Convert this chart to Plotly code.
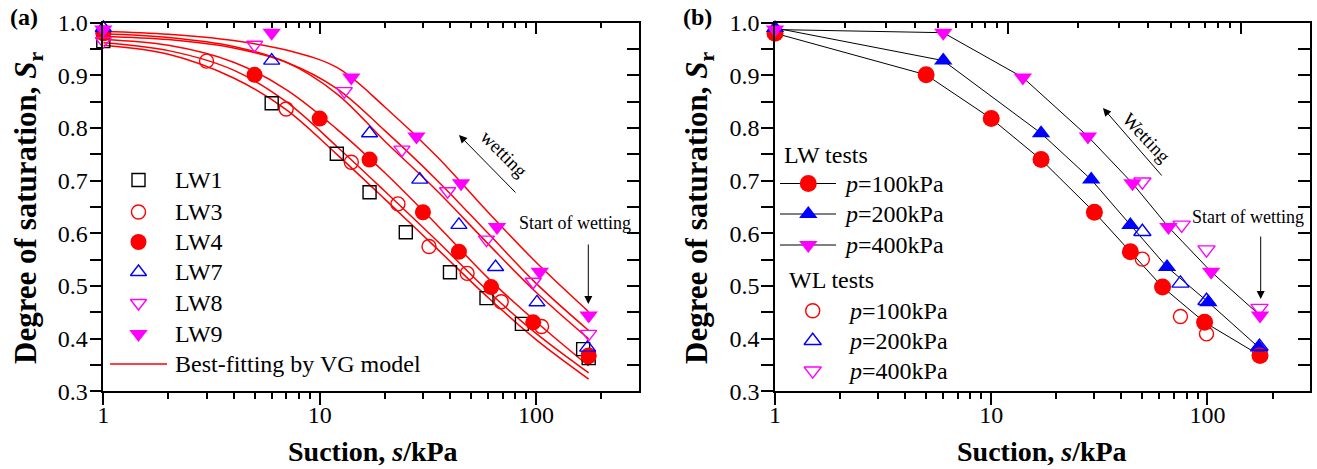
import plotly.graph_objects as go

W, H = 1317, 469
SERIF = "Liberation Serif"

# ---------- (a) LW tests: measured points ----------
s_lw1 = [1, 6, 12, 17, 25, 40, 59, 86, 165, 175]
sr_lw1 = [0.965, 0.847, 0.751, 0.678, 0.602, 0.526, 0.477, 0.428, 0.380, 0.363]
s_lw3 = [3, 7, 14, 23, 32, 48, 69, 106, 175]
sr_lw3 = [0.927, 0.836, 0.735, 0.656, 0.575, 0.524, 0.470, 0.423, 0.366]
s_lw4 = [1, 5, 10, 17, 30, 44, 62, 97, 175]
sr_lw4 = [0.980, 0.901, 0.818, 0.740, 0.640, 0.565, 0.498, 0.431, 0.368]
s_lw7 = [1, 6, 17, 29, 44, 65, 101, 173]
sr_lw7 = [0.990, 0.928, 0.790, 0.702, 0.616, 0.536, 0.469, 0.383]
s_lw8 = [1, 5, 13, 24, 39, 59, 97, 175]
sr_lw8 = [0.965, 0.958, 0.870, 0.759, 0.680, 0.588, 0.508, 0.409]
s_lw9 = [1, 6, 14, 28, 45, 66, 104, 175]
sr_lw9 = [0.987, 0.981, 0.896, 0.784, 0.695, 0.612, 0.527, 0.444]

# ---------- (a) VG best-fitting curves ----------
s_fit = [1, 2, 4, 7, 12, 20, 35, 60, 100, 175]
fit_lw1 = [0.957, 0.940, 0.895, 0.835, 0.750, 0.665, 0.570, 0.478, 0.398, 0.323]
fit_lw3 = [0.962, 0.947, 0.910, 0.850, 0.765, 0.680, 0.585, 0.490, 0.410, 0.335]
fit_lw4 = [0.968, 0.957, 0.925, 0.873, 0.798, 0.715, 0.615, 0.515, 0.432, 0.348]
fit_lw7 = [0.979, 0.972, 0.955, 0.925, 0.865, 0.775, 0.680, 0.580, 0.488, 0.3995]
fit_lw8 = [0.974, 0.968, 0.952, 0.925, 0.875, 0.795, 0.700, 0.600, 0.505, 0.4155]
fit_lw9 = [0.984, 0.978, 0.966, 0.948, 0.915, 0.840, 0.745, 0.640, 0.545, 0.451]

# ---------- (b) WL tests ----------
s_wl100 = [50, 75, 99, 174]
sr_wl100 = [0.551, 0.442, 0.409, 0.369]
s_wl200 = [50, 75, 99, 174]
sr_wl200 = [0.603, 0.505, 0.472, 0.385]
s_wl400 = [50, 76, 99, 174]
sr_wl400 = [0.698, 0.616, 0.569, 0.458]

# ---------- axis ticks ----------
y_major = [0.3, 0.4, 0.5, 0.6, 0.7, 0.8, 0.9, 1.0]
y_labels = ["0.3", "0.4", "0.5", "0.6", "0.7", "0.8", "0.9", "1.0"]
y_minor = [0.35, 0.45, 0.55, 0.65, 0.75, 0.85, 0.95]
x_major = [1, 10, 100]
x_labels = ["1", "10", "100"]
x_minor = [2, 3, 4, 5, 6, 7, 8, 9, 20, 30, 40, 50, 60, 70, 80, 90, 200, 300]

RED, BLUE, MAG = "#ff0000", "#0000ff", "#ff00ff"

fig = go.Figure()


def pts(x, y, sym, color, size, filled, xa, ya, line=False):
    fig.add_trace(go.Scatter(
        x=x, y=y, xaxis=xa, yaxis=ya, showlegend=False,
        mode="lines+markers" if line else "markers",
        line=dict(color="black", width=1),
        marker=dict(symbol=sym, size=size, color=color,
                    line=dict(color=color, width=0 if filled else 1.4)),
        cliponaxis=False,
    ))


# panel (a) fitted curves
for fv in [fit_lw1, fit_lw3, fit_lw4, fit_lw7, fit_lw8, fit_lw9]:
    fig.add_trace(go.Scatter(x=s_fit, y=fv, mode="lines", xaxis="x", yaxis="y",
                             line=dict(color=RED, width=1.5, shape="spline", smoothing=1.0),
                             showlegend=False))

# panel (a) points
pts(s_lw1, sr_lw1, "square-open", "black", 13, False, "x", "y")
pts(s_lw3, sr_lw3, "circle-open", RED, 14, False, "x", "y")
pts(s_lw4, sr_lw4, "circle", RED, 16, True, "x", "y")
pts(s_lw7, sr_lw7, "triangle-up-open", BLUE, 14, False, "x", "y")
pts(s_lw8, sr_lw8, "triangle-down-open", MAG, 14, False, "x", "y")
pts(s_lw9, sr_lw9, "triangle-down", MAG, 16, True, "x", "y")

# panel (b) LW (lines + filled markers) and WL (open markers)
pts(s_lw4, sr_lw4, "circle", RED, 17, True, "x2", "y2", line=True)
pts(s_lw7, sr_lw7, "triangle-up", BLUE, 16, True, "x2", "y2", line=True)
pts(s_lw9, sr_lw9, "triangle-down", MAG, 16, True, "x2", "y2", line=True)
pts(s_wl100, sr_wl100, "circle-open", RED, 14, False, "x2", "y2")
pts(s_wl200, sr_wl200, "triangle-up-open", BLUE, 15, False, "x2", "y2")
pts(s_wl400, sr_wl400, "triangle-down-open", MAG, 15, False, "x2", "y2")

# empty traces so the mirrored top/right axes are drawn
for xa, ya in [("x3", "y"), ("x", "y3"), ("x4", "y2"), ("x2", "y4")]:
    fig.add_trace(go.Scatter(x=[], y=[], xaxis=xa, yaxis=ya, showlegend=False))

# ---------- legend glyphs on a pixel-space overlay ----------
leg_a_y = [180, 212, 242, 272, 303, 334]
leg_a = [("square-open", "black", 13, False, "LW1"),
         ("circle-open", RED, 14, False, "LW3"),
         ("circle", RED, 16, True, "LW4"),
         ("triangle-up-open", BLUE, 14, False, "LW7"),
         ("triangle-down-open", MAG, 14, False, "LW8"),
         ("triangle-down", MAG, 16, True, "LW9")]
for (sym, col, sz, fl, _), yy in zip(leg_a, leg_a_y):
    pts([138.5], [yy], sym, col, sz, fl, "x5", "y5")
fig.add_trace(go.Scatter(x=[110, 167], y=[364, 364], mode="lines", xaxis="x5", yaxis="y5",
                         line=dict(color=RED, width=1.5), showlegend=False))

leg_b_lw_y = [183.5, 214, 245]
for (sym, col, sz), yy in zip([("circle", RED, 17), ("triangle-up", BLUE, 16),
                                ("triangle-down", MAG, 16)], leg_b_lw_y):
    fig.add_trace(go.Scatter(x=[780, 836], y=[yy, yy], mode="lines", xaxis="x5", yaxis="y5",
                             line=dict(color="black", width=1), showlegend=False))
    pts([808.3], [yy], sym, col, sz, True, "x5", "y5")
leg_b_wl_y = [310.7, 340.7, 370.7]
for (sym, col, sz), yy in zip([("circle-open", RED, 14), ("triangle-up-open", BLUE, 15),
                                ("triangle-down-open", MAG, 15)], leg_b_wl_y):
    pts([812.7], [yy], sym, col, sz, False, "x5", "y5")

ann = []


def text(x, y, t, size=24, anchor="left", angle=0, bold=False):
    ann.append(dict(x=x, y=y, xref="x5", yref="y5", text=f"<b>{t}</b>" if bold else t,
                    showarrow=False, xanchor=anchor, yanchor="middle", textangle=angle,
                    font=dict(family=SERIF, size=size, color="black")))


for (_, _, _, _, lab), yy in zip(leg_a, leg_a_y):
    text(173, yy, lab)
text(173, 364, "Best-fitting by VG model")
text(781.5, 154.5, "LW tests")
for lab, yy in zip(["100", "200", "400"], leg_b_lw_y):
    text(841.5, yy, f"<i>p</i>={lab}kPa")
text(786.5, 279.5, "WL tests")
for lab, yy in zip(["100", "200", "400"], leg_b_wl_y):
    text(846, yy, f"<i>p</i>={lab}kPa")

# panel labels and axis titles
text(24, 17, "(a)", size=24, anchor="center", bold=True)
text(697, 17, "(b)", size=24, anchor="center", bold=True)
for cx in (28, 699):
    text(cx, 208, "Degree of saturation, <i>S</i><sub>r</sub>", size=31, anchor="center",
         angle=-90, bold=True)
for cx in (373, 1042):
    text(cx, 451, "Suction, <i>s</i>/kPa", size=28, anchor="center", bold=True)

# wetting arrows and labels
text(504, 153, "wetting", size=19, anchor="center", angle=45)
text(1146.5, 137, "Wetting", size=19, anchor="center", angle=47)
text(574.5, 223, "Start of wetting", size=18, anchor="center")
text(1248, 217, "Start of wetting", size=18, anchor="center")


def arrow(x0, y0, x1, y1):
    ann.append(dict(x=x1, y=y1, ax=x0, ay=y0, xref="x5", yref="y5", axref="x5", ayref="y5",
                    text="", showarrow=True, arrowhead=2, arrowsize=1.6, arrowwidth=1,
                    arrowcolor="black"))


arrow(517, 194, 459, 135)
arrow(1163, 177, 1103, 108)
arrow(588.3, 243, 588.3, 304)
arrow(1260.7, 235, 1260.7, 299)

# ---------- axes ----------
XA = (103.3 / W, 638.7 / W)
XB = (775.0 / W, 1310.0 / W)
YD = (1 - 391.3 / H, 1 - 22.7 / H)
XR = [0, 2.4742]
tickfont = dict(family=SERIF, size=24, color="black")


def xaxis(dom, rng, side="bottom", ticks="outside", labels=True, **kw):
    d = dict(type="log", range=rng, domain=dom, side=side, showgrid=False, zeroline=False,
             automargin=False,
             showline=True, linecolor="black", linewidth=1.5,
             tickmode="array", tickvals=x_major, ticktext=x_labels,
             ticks=ticks, ticklen=12, tickwidth=1.5, tickcolor="black",
             showticklabels=labels, tickfont=tickfont, ticklabelstandoff=-11,
             minor=dict(tickvals=x_minor, ticks=ticks, ticklen=6, tickwidth=1.5,
                        tickcolor="black", showgrid=False))
    d.update(kw)
    return d


def yaxis(dom, side="left", ticks="outside", labels=True, **kw):
    d = dict(range=[0.3, 1.0], domain=dom, side=side, showgrid=False, zeroline=False,
             automargin=False,
             showline=True, linecolor="black", linewidth=1.5,
             tickmode="array", tickvals=y_major, ticktext=y_labels,
             ticks=ticks, ticklen=12, tickwidth=1.5, tickcolor="black",
             showticklabels=labels, tickfont=tickfont, ticklabelstandoff=-3,
             minor=dict(tickvals=y_minor, ticks=ticks, ticklen=12, tickwidth=1.5,
                        tickcolor="black", showgrid=False))
    d.update(kw)
    return d


fig.update_layout(
    template="none",
    width=W, height=H, margin=dict(l=0, r=0, t=0, b=0, pad=0, autoexpand=False),
    paper_bgcolor="white", plot_bgcolor="rgba(0,0,0,0)",
    xaxis=xaxis(XA, XR, anchor="y"),
    yaxis=yaxis(YD, anchor="x"),
    xaxis2=xaxis(XB, XR, anchor="y2"),
    yaxis2=yaxis(YD, anchor="x2"),
    xaxis3=xaxis(XA, XR, side="top", ticks="inside", labels=False, overlaying="x", anchor="y"),
    yaxis3=yaxis(YD, side="right", ticks="inside", labels=False, overlaying="y", anchor="x"),
    xaxis4=xaxis(XB, [0, 2.296], side="top", ticks="inside", labels=False,
                 overlaying="x2", anchor="y2"),
    yaxis4=yaxis(YD, side="right", ticks="inside", labels=False, overlaying="y2", anchor="x2"),
    xaxis5=dict(domain=[0, 1], range=[0, W], visible=False, anchor="y5", fixedrange=True,
                automargin=False),
    yaxis5=dict(domain=[0, 1], range=[H, 0], visible=False, anchor="x5", fixedrange=True,
                automargin=False),
    annotations=ann,
    showlegend=False,
)

fig.write_html("out.html")
